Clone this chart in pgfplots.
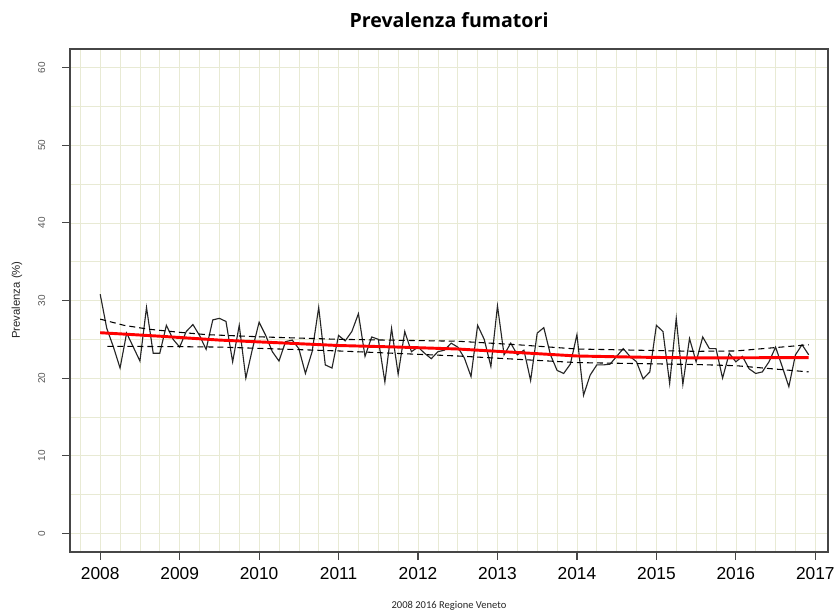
\documentclass[border=0pt]{standalone}
\usepackage{fontspec}
\setmainfont{Liberation Sans}
\newfontfamily\carlito{Carlito}
\newfontfamily\opensans{Open Sans}
\usepackage{pgfplots}
\pgfplotsset{compat=1.18}
\usepackage{pgfplotstable}
\definecolor{gridc}{RGB}{232,234,212}
\definecolor{framec}{RGB}{70,70,70}

% monthly prevalence
\pgfplotstableread{
x y
2008.000 30.8
2008.083 26.4
2008.167 24.0
2008.250 21.3
2008.333 25.8
2008.417 24.0
2008.500 22.2
2008.583 29.1
2008.667 23.2
2008.750 23.2
2008.833 26.8
2008.917 25.0
2009.000 24.0
2009.083 26.0
2009.167 26.9
2009.250 25.5
2009.333 23.7
2009.417 27.5
2009.500 27.7
2009.583 27.3
2009.667 22.1
2009.750 26.8
2009.833 20.0
2009.917 23.8
2010.000 27.2
2010.083 25.5
2010.167 23.4
2010.250 22.2
2010.333 24.7
2010.417 24.9
2010.500 23.8
2010.583 20.6
2010.667 23.4
2010.750 29.1
2010.833 21.7
2010.917 21.3
2011.000 25.5
2011.083 24.8
2011.167 26.0
2011.250 28.3
2011.333 22.8
2011.417 25.3
2011.500 25.0
2011.583 19.5
2011.667 26.4
2011.750 20.5
2011.833 26.0
2011.917 23.4
2012.000 24.0
2012.083 23.2
2012.167 22.5
2012.250 23.4
2012.333 23.6
2012.417 24.5
2012.500 24.0
2012.583 22.6
2012.667 20.2
2012.750 26.8
2012.833 25.0
2012.917 21.5
2013.000 29.3
2013.083 23.0
2013.167 24.5
2013.250 23.0
2013.333 23.6
2013.417 19.7
2013.500 25.8
2013.583 26.5
2013.667 23.0
2013.750 21.0
2013.833 20.6
2013.917 21.8
2014.000 25.6
2014.083 17.8
2014.167 20.4
2014.250 21.7
2014.333 21.7
2014.417 21.8
2014.500 22.8
2014.583 23.8
2014.667 22.8
2014.750 22.1
2014.833 19.9
2014.917 20.8
2015.000 26.8
2015.083 26.0
2015.167 19.3
2015.250 27.7
2015.333 19.2
2015.417 25.1
2015.500 22.1
2015.583 25.3
2015.667 23.8
2015.750 23.8
2015.833 20.0
2015.917 23.2
2016.000 22.1
2016.083 22.8
2016.167 21.2
2016.250 20.6
2016.333 20.8
2016.417 22.1
2016.500 24.0
2016.583 21.5
2016.667 18.9
2016.750 23.0
2016.833 24.3
2016.917 23.0
}\prevtab

% trend and its band
\pgfplotstableread{
x y
2008.000 25.85
2008.750 25.40
2009.500 24.90
2010.250 24.55
2011.000 24.20
2011.750 24.00
2012.500 23.75
2013.250 23.30
2014.000 22.85
2014.750 22.70
2015.500 22.60
2016.917 22.65
}\trendtab

\pgfplotstableread{
x y
2008.000 27.6
2008.300 26.8
2008.610 26.3
2009.000 25.9
2009.340 25.6
2010.060 25.3
2011.000 25.0
2012.500 24.75
2013.250 24.3
2014.000 23.75
2015.500 23.45
2016.000 23.5
2016.917 24.3
}\uppertab

\pgfplotstableread{
x y
2008.090 24.1
2009.000 24.05
2009.500 24.0
2011.000 23.5
2012.500 22.85
2014.000 22.0
2015.500 21.75
2016.000 21.6
2016.917 20.8
}\lowertab

\begin{document}
\begin{tikzpicture}
\useasboundingbox (-52.5pt,-48pt) rectangle (573pt,414pt);
\begin{axis}[
  at={(0pt,0pt)}, anchor=south west,
  scale only axis, width=568.5pt, height=377.25pt,
  xmin=2007.62, xmax=2017.16, ymin=-2.4, ymax=62.4,
  xtick={2008,2009,2010,2011,2012,2013,2014,2015,2016,2017},
  minor xtick={2007.75,2008.25,2008.5,2008.75,2009.25,2009.5,2009.75,
    2010.25,2010.5,2010.75,2011.25,2011.5,2011.75,2012.25,2012.5,2012.75,
    2013.25,2013.5,2013.75,2014.25,2014.5,2014.75,2015.25,2015.5,2015.75,
    2016.25,2016.5,2016.75},
  ytick={0,10,20,30,40,50,60},
  minor ytick={5,15,25,35,45,55},
  grid=both,
  major grid style={gridc, line width=0.5pt},
  minor grid style={gridc, line width=0.5pt},
  tick pos=left, tick align=outside,
  major tick length=6pt, minor tick length=0pt,
  axis line style={framec, line width=1.1pt},
  every tick/.style={framec, line width=0.9pt},
  /pgf/number format/assume math mode=true,
  /pgf/number format/1000 sep={},
  xticklabel style={font=\fontsize{13}{13}\selectfont, yshift=-2pt},
  yticklabel style={font=\fontsize{7.5}{7.5}\selectfont, black!65, xshift=-9pt, rotate=90, anchor=south},
]
\addplot[black!85, line width=0.85pt] table {\prevtab};
\addplot[black, line width=0.8pt, dash pattern=on 4.5pt off 3pt] table {\uppertab};
\addplot[black, line width=0.8pt, dash pattern=on 4.5pt off 3pt] table {\lowertab};
\addplot[red, line width=2.2pt] table {\trendtab};
\end{axis}
\node[font=\opensans\bfseries\fontsize{14.7}{14.7}\selectfont] at (284.25pt,399pt) {Prevalenza fumatori};
\node[font=\carlito\fontsize{7.9}{7.9}\selectfont, black!85] at (284.25pt,-40.5pt) {2008 2016 Regione Veneto};
\node[rotate=90, font=\fontsize{8.5}{8.5}\selectfont, black!85] at (-39.75pt,189pt) {Prevalenza (\%)};
\end{tikzpicture}
\end{document}
